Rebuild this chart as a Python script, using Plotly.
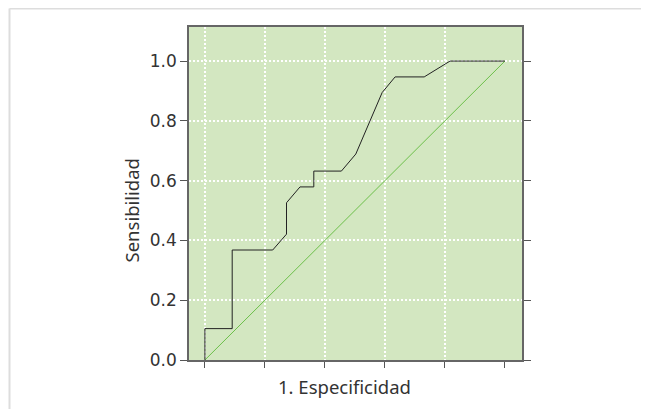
import plotly.graph_objects as go

# ROC curve (1 - specificity vs sensitivity)
fpr = [0.0, 0.0, 0.091, 0.091, 0.226, 0.272, 0.272, 0.317, 0.363, 0.363, 0.455, 0.503,
       0.591, 0.634, 0.731, 0.817, 1.0]
tpr = [0.0, 0.105, 0.105, 0.368, 0.368, 0.421, 0.526, 0.579, 0.579, 0.632, 0.632, 0.689,
       0.895, 0.947, 0.947, 1.0, 1.0]
diag_x = [0.0, 1.0]
diag_y = [0.0, 1.0]

x_ticks = [0.0, 0.2, 0.4, 0.6, 0.8, 1.0]
x_grid = [0.0, 0.2, 0.4, 0.6, 0.8]
y_ticks = [0.0, 0.2, 0.4, 0.6, 0.8, 1.0]
y_labels = ["0.0", "0.2", "0.4", "0.6", "0.8", "1.0"]

OFF = 8  # browser body margin
W, H = 641, 401
L, T = 181, 19
pw, ph = 333, 333
R, B = W - L - pw, H - T - ph

def px(x):
    return (x - OFF - L) / pw

def py(y):
    return (T + ph - (y - OFF)) / ph

fig = go.Figure()
fig.add_trace(go.Scatter(x=diag_x, y=diag_y, mode="lines",
                         line=dict(color="#6cbf4a", width=1), hoverinfo="skip", showlegend=False))
fig.add_trace(go.Scatter(x=fpr, y=tpr, mode="lines",
                         line=dict(color="#222222", width=1), showlegend=False))

xr = [-0.053, 1.057]
yr = [0.0, 1.114]

fig.update_layout(
    width=W, height=H,
    margin=dict(l=L, r=R, t=T, b=B, pad=0),
    paper_bgcolor="white",
    plot_bgcolor="#d3e7c1",
    xaxis=dict(range=xr, tickvals=x_ticks, showticklabels=False, ticks="outside",
               ticklen=6, tickwidth=1, tickcolor="#555555", showgrid=False, zeroline=False,
               showline=True, linecolor="#666666", linewidth=1.5, mirror=True),
    xaxis2=dict(range=xr, overlaying="x", tickvals=x_grid, showticklabels=False, ticks="",
                showgrid=True, gridcolor="white", griddash="2px,2px", gridwidth=1.5,
                zeroline=False, showline=False),
    yaxis=dict(range=yr, tickvals=y_ticks, ticktext=y_labels, ticks="outside",
               ticklen=7, tickwidth=1, tickcolor="#555555", showgrid=True,
               gridcolor="white", griddash="2px,2px", gridwidth=1.5, zeroline=False,
               showline=True, linecolor="#666666", linewidth=1.5, mirror="ticks",
               tickfont=dict(family="DejaVu Sans", size=17, color="#333333")),
    annotations=[
        dict(text="1. Especificidad", xref="paper", yref="paper", x=px(344), y=py(386.5),
             showarrow=False, xanchor="center", yanchor="middle",
             font=dict(family="Noto Sans", size=18.5, color="#333333")),
        dict(text="Sensibilidad", xref="paper", yref="paper", x=px(131), y=py(210.5),
             showarrow=False, xanchor="center", yanchor="middle", textangle=-90,
             font=dict(family="Noto Sans", size=18.5, color="#333333")),
    ],
    shapes=[
        dict(type="line", xref="paper", yref="paper", x0=px(9.5), x1=px(649),
             y0=py(8.5), y1=py(8.5), line=dict(color="#dddddd", width=2)),
        dict(type="line", xref="paper", yref="paper", x0=px(9.5), x1=px(9.5),
             y0=py(8.5), y1=py(409), line=dict(color="#dddddd", width=2)),
    ],
)
# invisible trace on xaxis2 so its grid is drawn
fig.add_trace(go.Scatter(x=[None], y=[None], xaxis="x2", showlegend=False, hoverinfo="skip"))

fig.write_html("out.html")
